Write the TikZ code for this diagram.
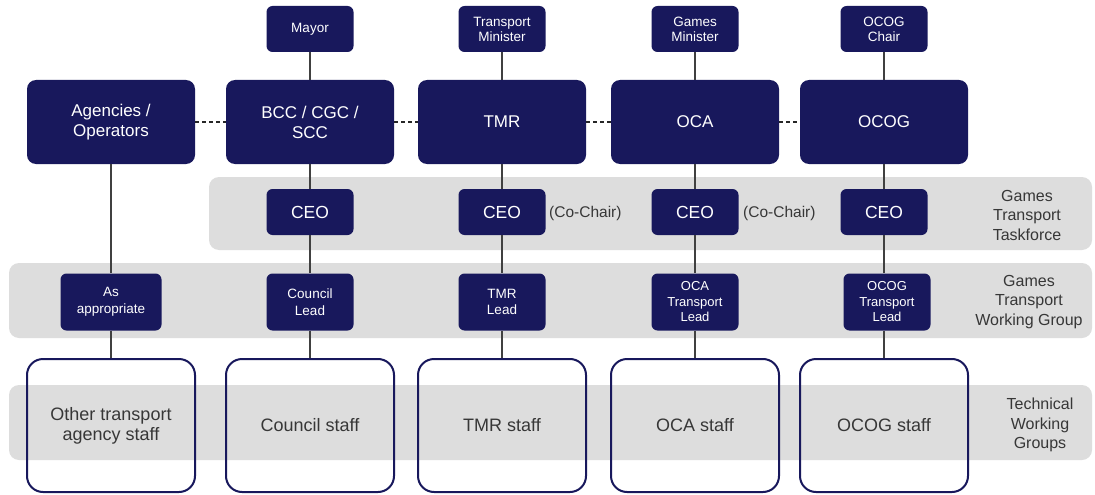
\documentclass[tikz,border=0pt]{standalone}
\usepackage{fontspec}
\setmainfont{Liberation Sans}
\definecolor{navy}{RGB}{24,24,92}
\definecolor{bandgrey}{RGB}{221,221,221}
\definecolor{txt}{RGB}{55,55,55}
\begin{document}
\begin{tikzpicture}[x=1pt,y=-1pt,
 navybox/.style={fill=navy, rounded corners=6pt, text=white, align=center, inner sep=0pt},
 big/.style={navybox, minimum width=168pt, minimum height=84pt, font=\fontsize{17}{20}\selectfont, rounded corners=9pt},
 small/.style={navybox, minimum width=87pt, minimum height=46pt, font=\fontsize{13.5}{15}\selectfont},
 ceo/.style={navybox, minimum width=87pt, minimum height=46pt, font=\fontsize{17.5}{20}\selectfont},
 lead/.style={navybox, minimum width=87pt, minimum height=57pt, font=\fontsize{13.5}{16.5}\selectfont},
 staff/.style={draw=navy, line width=2pt, rounded corners=16pt, minimum width=168pt, minimum height=133pt, text=txt, align=center, font=\fontsize{18}{20}\selectfont},
 bandbox/.style={fill=bandgrey, rounded corners=10pt},
 bandlabel/.style={text=txt, align=center, font=\fontsize{16}{19.5}\selectfont},
 cochair/.style={text=txt, anchor=west, inner sep=0pt, font=\fontsize{15.5}{17}\selectfont},
 link/.style={draw=black!75, line width=1.2pt},
 dlink/.style={draw=black!85, line width=1.2pt, dash pattern=on 4pt off 3pt}
]
\fill[white] (0,0) rectangle (1095,495);
\useasboundingbox (0,0) rectangle (1095,495);
% bands
\fill[bandbox] (209,177) rectangle (1092,250);
\fill[bandbox] (9,263) rectangle (1092,338);
\fill[bandbox] (9,385) rectangle (1092,460);
% top small boxes
\node[small] (mayor) at (310,29) {Mayor};
\node[small] (tmin) at (502,29) {Transport\\Minister};
\node[small] (gmin) at (695,29) {Games\\Minister};
\node[small] (ochair) at (884,29) {OCOG\\Chair};
% big boxes
\node[big] (agen) at (111,122) {Agencies /\\Operators};
\node[big] (bcc) at (310,122) {BCC / CGC /\\SCC};
\node[big] (tmr) at (502,122) {TMR};
\node[big] (oca) at (695,122) {OCA};
\node[big] (ocog) at (884,122) {OCOG};
% CEO
\node[ceo] (ceo2) at (310,212) {CEO};
\node[ceo] (ceo3) at (502,212) {CEO};
\node[ceo] (ceo4) at (695,212) {CEO};
\node[ceo] (ceo5) at (884,212) {CEO};
\node[cochair] (cc3) at (549,213) {(Co-Chair)};
\node[cochair] (cc4) at (743,213) {(Co-Chair)};
% leads
\node[lead, minimum width=101pt] (lead1) at (111,302) {As\\appropriate};
\node[lead] (lead2) at (310,302) {Council\\Lead};
\node[lead] (lead3) at (502,302) {TMR\\Lead};
\node[lead, font=\fontsize{13}{15.5}\selectfont] (lead4) at (695,302) {OCA\\Transport\\Lead};
\node[lead, font=\fontsize{13}{15.5}\selectfont] (lead5) at (887,302) {OCOG\\Transport\\Lead};
% staff
\node[staff] (st1) at (111,425.5) {Other transport\\agency staff};
\node[staff] (st2) at (310,425.5) {Council staff};
\node[staff] (st3) at (502,425.5) {TMR staff};
\node[staff] (st4) at (695,425.5) {OCA staff};
\node[staff] (st5) at (884,425.5) {OCOG staff};
% band labels
\node[bandlabel] (lab1) at (1027,215) {Games\\Transport\\Taskforce};
\node[bandlabel] (lab2) at (1029,302) {Games\\Transport\\Working Group};
\node[bandlabel] (lab3) at (1040,425) {Technical\\Working\\Groups};
% dashed links
\draw[dlink] (agen) -- (bcc);
\draw[dlink] (bcc) -- (tmr);
\draw[dlink] (tmr) -- (oca);
\draw[dlink] (oca) -- (ocog);
% vertical links
\draw[link] (agen) -- (lead1);
\draw[link] (lead1) -- (st1);
\draw[link] (mayor) -- (bcc);
\draw[link] (bcc) -- (ceo2);
\draw[link] (ceo2) -- (lead2);
\draw[link] (lead2) -- (st2);
\draw[link] (tmin) -- (tmr);
\draw[link] (tmr) -- (ceo3);
\draw[link] (ceo3) -- (lead3);
\draw[link] (lead3) -- (st3);
\draw[link] (gmin) -- (oca);
\draw[link] (oca) -- (ceo4);
\draw[link] (ceo4) -- (lead4);
\draw[link] (lead4) -- (st4);
\draw[link] (ochair) -- (ocog);
\draw[link] (ocog) -- (ceo5);
\draw[link] (ceo5) -- (lead5.north -| ceo5.south);
\draw[link] (lead5.south -| ceo5.south) -- (st5);
\end{tikzpicture}
\end{document}
